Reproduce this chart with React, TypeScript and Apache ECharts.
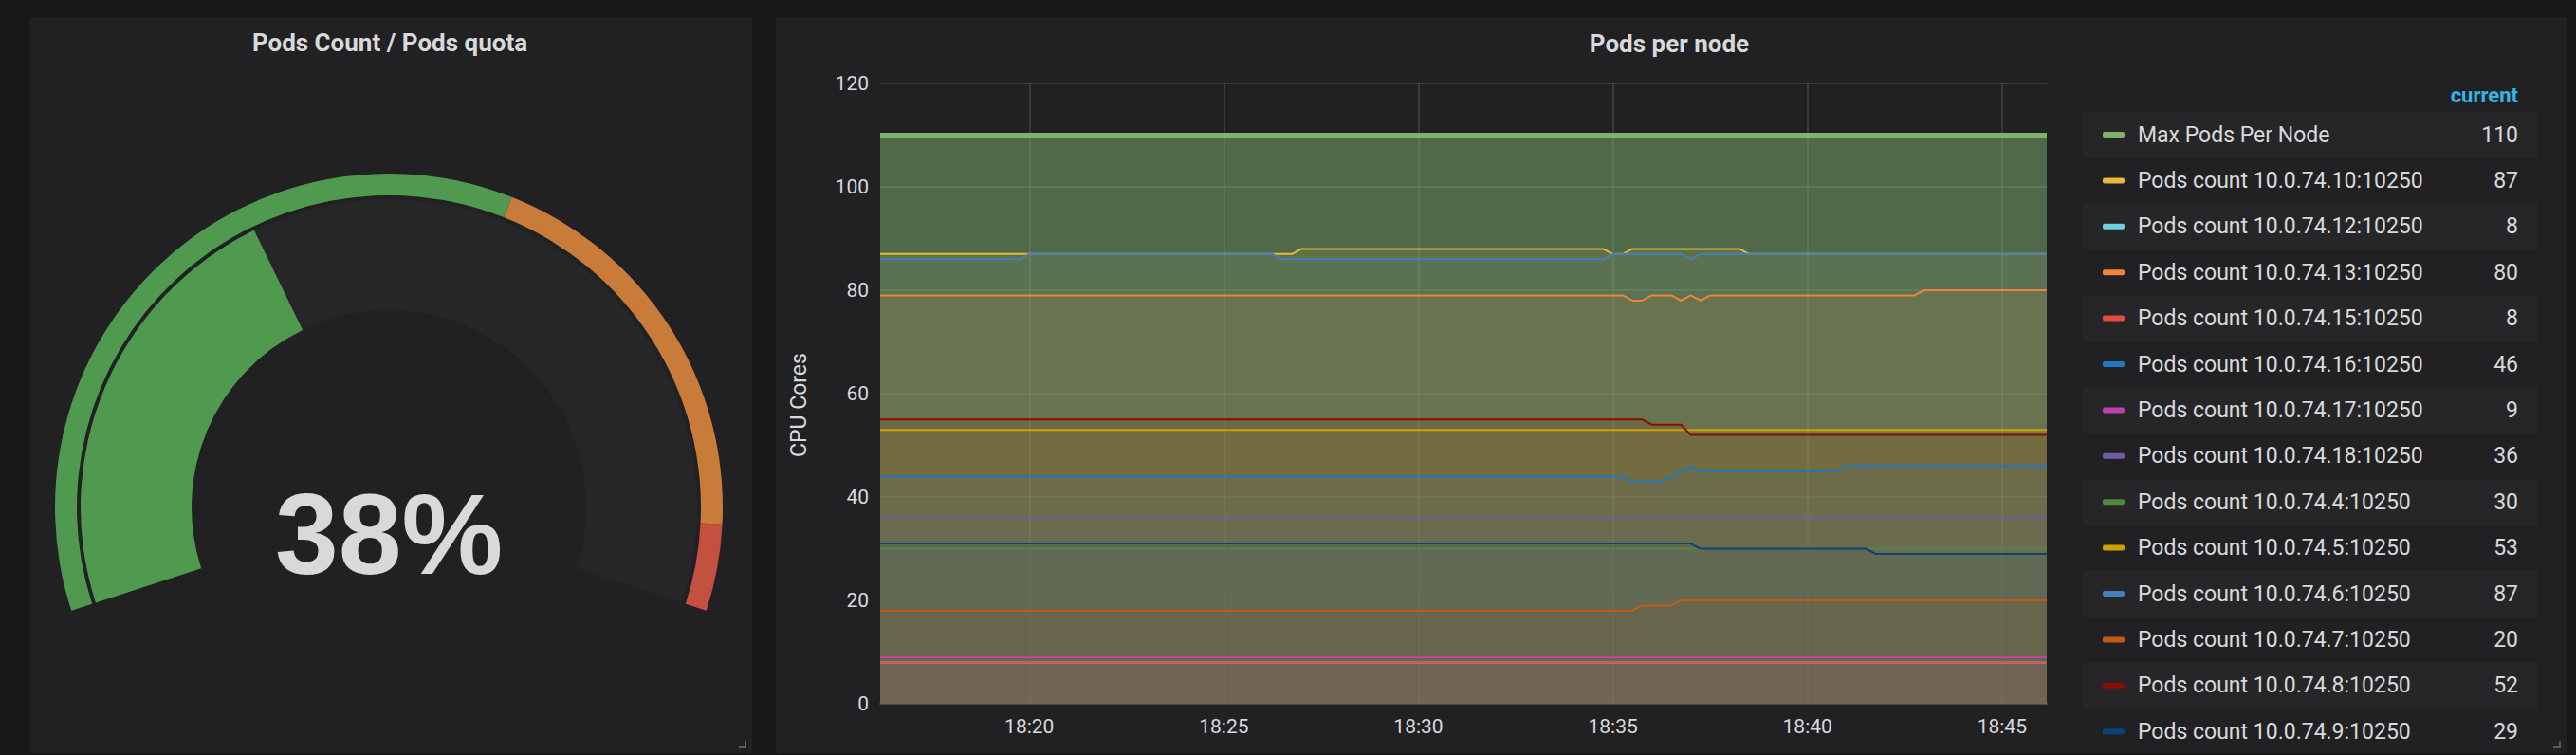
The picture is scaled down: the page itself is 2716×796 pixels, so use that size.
import React, { useEffect, useRef } from 'react';
import * as echarts from 'echarts';

// time is in minutes after 18:00
const T_START = 16 + 10 / 60;
const T_END = 46 + 9 / 60;

const xTickMinutes = [20, 25, 30, 35, 40, 45];

const seriesNames = [
  'Max Pods Per Node',
  'Pods count 10.0.74.10:10250',
  'Pods count 10.0.74.12:10250',
  'Pods count 10.0.74.13:10250',
  'Pods count 10.0.74.15:10250',
  'Pods count 10.0.74.16:10250',
  'Pods count 10.0.74.17:10250',
  'Pods count 10.0.74.18:10250',
  'Pods count 10.0.74.4:10250',
  'Pods count 10.0.74.5:10250',
  'Pods count 10.0.74.6:10250',
  'Pods count 10.0.74.7:10250',
  'Pods count 10.0.74.8:10250',
  'Pods count 10.0.74.9:10250',
];

const seriesColors = [
  '#7EB26D', '#EAB839', '#6ED0E0', '#EF843C', '#E24D42', '#1F78C1', '#BA43A9',
  '#705DA0', '#508642', '#CCA300', '#447EBC', '#C15C17', '#890F02', '#0A437C',
];

const maxPodsPerNode = [[T_START, 110], [T_END, 110]];
const pods10 = [[T_START, 87], [26.75, 87], [27, 88], [34.75, 88], [35, 87], [35.25, 87], [35.5, 88], [38.25, 88], [38.5, 87], [T_END, 87]];
const pods12 = [[T_START, 8], [T_END, 8]];
const pods13 = [[T_START, 79], [35.25, 79], [35.5, 78], [35.75, 78], [36, 79], [36.5, 79], [36.75, 78], [37, 79], [37.25, 78], [37.5, 79], [42.75, 79], [43, 80], [T_END, 80]];
const pods15 = [[T_START, 8], [T_END, 8]];
const pods16 = [[T_START, 44], [35.25, 44], [35.5, 43], [36.25, 43], [37, 46], [37.25, 45], [40.75, 45], [41, 46], [T_END, 46]];
const pods17 = [[T_START, 9], [T_END, 9]];
const pods18 = [[T_START, 36], [T_END, 36]];
const pods4 = [[T_START, 30], [T_END, 30]];
const pods5 = [[T_START, 53], [T_END, 53]];
const pods6 = [[T_START, 86], [19.75, 86], [20, 87], [26.25, 87], [26.5, 86], [34.75, 86], [35, 87], [36.75, 87], [37, 86], [37.25, 87], [T_END, 87]];
const pods7 = [[T_START, 18], [35.5, 18], [35.75, 19], [36.5, 19], [36.75, 20], [T_END, 20]];
const pods8 = [[T_START, 55], [35.75, 55], [36, 54], [36.75, 54], [37, 52], [T_END, 52]];
const pods9 = [[T_START, 31], [37, 31], [37.25, 30], [41.5, 30], [41.75, 29], [T_END, 29]];

const allSeries = [maxPodsPerNode, pods10, pods12, pods13, pods15, pods16, pods17, pods18, pods4, pods5, pods6, pods7, pods8, pods9];

const yTicks = { min: 0, max: 120, interval: 20 };

const gaugeValue = 38;
const gaugeThresholds = [0.6, 0.93];

const TEXT = '#d8d9da';
const PANEL = '#212124';
const FONT = 'Roboto';
const GRID_LINE = 'rgba(255,255,255,0.15)';

const App = () => {
  const chartRef = useRef<HTMLDivElement>(null);

  useEffect(() => {
    const chart = echarts.init(chartRef.current, null, { renderer: 'svg' });

    const lineSeries = allSeries.map((pts, i) => ({
      type: 'line',
      name: seriesNames[i],
      data: pts,
      showSymbol: false,
      symbol: 'none',
      smooth: false,
      lineStyle: { width: i === 0 ? 5 : 2, color: seriesColors[i] },
      itemStyle: { color: seriesColors[i] },
      areaStyle: { color: seriesColors[i], opacity: i === 0 ? 0.5 : 0.1 },
      emphasis: { disabled: true },
      silent: true,
    }));

    // legend table on the right
    const rowY0 = 142;
    const rowH = 48.4;
    const legendEls: any[] = [
      {
        type: 'text', x: 2655, y: 100,
        style: { text: 'current', fill: '#33b5e5', font: `bold 22px ${FONT}`, align: 'right', verticalAlign: 'middle' },
      },
    ];
    seriesNames.forEach((name, i) => {
      const cy = rowY0 + i * rowH;
      const pts = allSeries[i];
      if (i % 2 === 0) {
        legendEls.push({ type: 'rect', shape: { x: 2196, y: cy - 24, width: 480, height: 48 }, style: { fill: '#262628' } });
      }
      legendEls.push({ type: 'rect', shape: { x: 2217, y: cy - 3, width: 23, height: 6, r: 2 }, style: { fill: seriesColors[i] } });
      legendEls.push({ type: 'text', x: 2254, y: cy, style: { text: name, fill: TEXT, font: `23px ${FONT}`, verticalAlign: 'middle' } });
      legendEls.push({
        type: 'text', x: 2655, y: cy,
        style: { text: String(pts[pts.length - 1][1]), fill: TEXT, font: `23px ${FONT}`, align: 'right', verticalAlign: 'middle' },
      });
    });

    const option = {
      animation: false,
      backgroundColor: '#161719',
      graphic: [
        { type: 'rect', z: -10, shape: { x: 31, y: 18, width: 762, height: 776, r: 3 }, style: { fill: PANEL } },
        { type: 'rect', z: -10, shape: { x: 818, y: 18, width: 1888, height: 776, r: 3 }, style: { fill: PANEL } },
        {
          type: 'text', x: 411, y: 45,
          style: { text: 'Pods Count / Pods quota', fill: TEXT, font: `bold 26px ${FONT}`, align: 'center', verticalAlign: 'middle' },
        },
        {
          type: 'text', x: 1760, y: 46,
          style: { text: 'Pods per node', fill: TEXT, font: `bold 26px ${FONT}`, align: 'center', verticalAlign: 'middle' },
        },
        {
          type: 'text', x: 842, y: 427, rotation: Math.PI / 2,
          style: { text: 'CPU Cores', fill: TEXT, font: `23px ${FONT}`, align: 'center', verticalAlign: 'middle' },
        },
        { type: 'polyline', shape: { points: [[779, 788], [786, 788], [786, 781]] }, style: { stroke: '#5a5a5c', lineWidth: 2, fill: null } },
        { type: 'polyline', shape: { points: [[2692, 788], [2699, 788], [2699, 781]] }, style: { stroke: '#5a5a5c', lineWidth: 2, fill: null } },
        ...legendEls,
      ],
      grid: { left: 928, right: 558, top: 88, bottom: 54 },
      xAxis: {
        type: 'value',
        min: T_START,
        max: T_END,
        axisLabel: {
          customValues: xTickMinutes,
          formatter: (v: number) => `18:${v}`,
          color: TEXT, fontSize: 21, fontFamily: FONT, margin: 13,
        },
        axisLine: { lineStyle: { color: '#4b4d52', width: 2 } },
        axisTick: { show: false, customValues: xTickMinutes },
        splitLine: { show: true, lineStyle: { color: GRID_LINE, width: 1.5 } },
      },
      yAxis: {
        type: 'value',
        min: yTicks.min,
        max: yTicks.max,
        interval: yTicks.interval,
        axisLabel: { color: TEXT, fontSize: 21, fontFamily: FONT, margin: 12 },
        axisLine: { show: false },
        axisTick: { show: false },
        splitLine: { show: true, lineStyle: { color: GRID_LINE, width: 1.5 } },
      },
      series: [
        {
          type: 'gauge',
          center: [410, 535],
          radius: 352,
          startAngle: 198,
          endAngle: -18,
          min: 0,
          max: 100,
          silent: true,
          axisLine: {
            lineStyle: {
              width: 23,
              color: [[gaugeThresholds[0], '#4f9a4f'], [gaugeThresholds[1], '#c97c3a'], [1, '#c4503f']],
            },
          },
          pointer: { show: false },
          axisTick: { show: false },
          splitLine: { show: false },
          axisLabel: { show: false },
          title: { show: false },
          detail: { show: false },
          data: [{ value: gaugeValue }],
        },
        {
          type: 'gauge',
          center: [410, 535],
          radius: 325,
          startAngle: 198,
          endAngle: -18,
          min: 0,
          max: 100,
          silent: true,
          axisLine: { lineStyle: { width: 117, color: [[1, '#262628']] } },
          progress: { show: true, width: 117, itemStyle: { color: '#4f9a4f' } },
          pointer: { show: false },
          axisTick: { show: false },
          splitLine: { show: false },
          axisLabel: { show: false },
          title: { show: false },
          detail: {
            show: true,
            formatter: '{value}%',
            fontSize: 120,
            fontWeight: 'bold',
            fontFamily: 'Liberation Sans',
            color: TEXT,
            offsetCenter: [0, 28],
          },
          data: [{ value: gaugeValue }],
        },
        ...lineSeries,
      ],
    };

    chart.setOption(option as any);

    return () => {
      chart.dispose();
    };
  }, []);

  return (
    <div
      ref={chartRef}
      style={{ position: 'fixed', left: 0, top: 0, width: '2716px', height: '796px' }}
    />
  );
};

export default App;
